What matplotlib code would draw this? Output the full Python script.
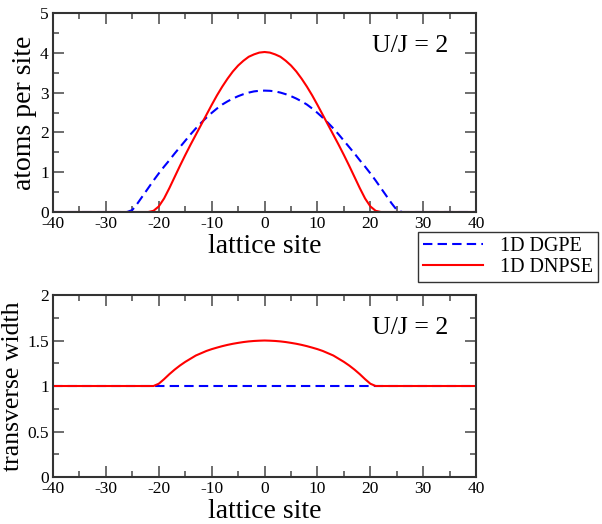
import matplotlib
matplotlib.use("Agg")
import matplotlib.pyplot as plt
from matplotlib.ticker import MultipleLocator, FormatStrFormatter

plt.rcParams['font.family'] = ['Liberation Serif', 'DejaVu Serif']
plt.rcParams['axes.unicode_minus'] = False

# ---- data ----
sites_dgpe = [-40, -26, -25, -24, -23, -22, -21, -20, -19, -18, -17, -16, -15, -14, -13, -12, -11, -10,
              -9, -8, -7, -6, -5, -4, -3, -2, -1, 0, 1, 2, 3, 4, 5, 6, 7, 8, 9, 10,
              11, 12, 13, 14, 15, 16, 17, 18, 19, 20, 21, 22, 23, 24, 25, 26, 40]
atoms_dgpe = [0.0, 0.0, 0.05, 0.22, 0.41, 0.60, 0.79, 0.97, 1.14, 1.30, 1.47, 1.63, 1.79, 1.95, 2.10, 2.24, 2.37, 2.49,
              2.60, 2.70, 2.78, 2.85, 2.91, 2.96, 3.00, 3.03, 3.045, 3.05, 3.045, 3.03, 3.00, 2.96, 2.91, 2.85, 2.78, 2.70, 2.60, 2.49,
              2.37, 2.24, 2.10, 1.95, 1.79, 1.63, 1.47, 1.30, 1.14, 0.97, 0.79, 0.60, 0.41, 0.22, 0.05, 0.0, 0.0]

sites_dnpse = [-40, -22, -21, -20, -19, -18, -17, -16, -15, -14, -13, -12, -11, -10,
               -9, -8, -7, -6, -5, -4, -3, -2, -1, 0, 1, 2, 3, 4, 5, 6, 7, 8, 9, 10,
               11, 12, 13, 14, 15, 16, 17, 18, 19, 20, 21, 22, 40]
atoms_dnpse = [0.0, 0.0, 0.03, 0.14, 0.34, 0.60, 0.88, 1.16, 1.43, 1.69, 1.94, 2.19, 2.44, 2.69,
               2.93, 3.15, 3.35, 3.53, 3.68, 3.80, 3.90, 3.96, 4.005, 4.02, 4.005, 3.96, 3.90, 3.80, 3.68, 3.53, 3.35, 3.15, 2.93, 2.69,
               2.44, 2.19, 1.94, 1.69, 1.43, 1.16, 0.88, 0.60, 0.34, 0.14, 0.03, 0.0, 0.0]

width_sites_dgpe = [-40, 40]
width_dgpe = [1.0, 1.0]

width_sites_dnpse = [-40, -21, -20, -19, -18, -17, -16, -15, -14, -13, -12, -11, -10,
                     -9, -8, -7, -6, -5, -4, -3, -2, -1, 0, 1, 2, 3, 4, 5, 6, 7, 8, 9, 10,
                     11, 12, 13, 14, 15, 16, 17, 18, 19, 20, 21, 40]
width_dnpse = [1.0, 1.0, 1.025, 1.075, 1.13, 1.18, 1.225, 1.265, 1.30, 1.335, 1.36, 1.385, 1.405,
               1.422, 1.438, 1.452, 1.464, 1.474, 1.483, 1.49, 1.495, 1.498, 1.50, 1.498, 1.495, 1.49, 1.483, 1.474, 1.464, 1.452, 1.438, 1.422, 1.405,
               1.385, 1.36, 1.335, 1.30, 1.265, 1.225, 1.18, 1.13, 1.075, 1.025, 1.0, 1.0]

label_dgpe = "1D DGPE"
label_dnpse = "1D DNPSE"
annot = "U/J = 2"

# ---- figure ----
fig = plt.figure(figsize=(6.02, 5.24), dpi=100)
ax1 = fig.add_axes([0.088, 0.5954, 0.703, 0.3798])
ax2 = fig.add_axes([0.088, 0.0897, 0.703, 0.3473])

blue = '#0000ff'
red = '#ff0000'

l1, = ax1.plot(sites_dgpe, atoms_dgpe, color=blue, lw=1.5, dashes=(4.5, 2.5), label=label_dgpe)
l2, = ax1.plot(sites_dnpse, atoms_dnpse, color=red, lw=1.5, label=label_dnpse)
ax2.plot(width_sites_dgpe, width_dgpe, color=blue, lw=1.5, dashes=(4.5, 2.5))
ax2.plot(width_sites_dnpse, width_dnpse, color=red, lw=1.5)

ax1.set_xlim(-40, 40)
ax1.set_ylim(0, 5)
ax2.set_xlim(-40, 40)
ax2.set_ylim(0, 2)

ax1.yaxis.set_major_locator(MultipleLocator(1))
ax1.yaxis.set_minor_locator(MultipleLocator(0.5))
ax2.yaxis.set_major_locator(MultipleLocator(0.5))
ax2.yaxis.set_minor_locator(MultipleLocator(0.25))
ax2.yaxis.set_major_formatter(FormatStrFormatter('%g'))
for ax in (ax1, ax2):
    ax.xaxis.set_major_locator(MultipleLocator(10))
    ax.xaxis.set_minor_locator(MultipleLocator(5))
    ax.tick_params(which='both', direction='in', top=True, right=True, labelsize=12.5,
                   color='#555555', width=1.2)
    ax.tick_params(which='major', length=8)
    ax.tick_params(which='minor', length=4)
    ax.tick_params(axis='x', pad=3)
    ax.tick_params(axis='y', pad=3)
    for s in ax.spines.values():
        s.set_linewidth(1.5)
        s.set_color('#333333')
    ax.set_xlabel("lattice site", fontsize=20, labelpad=1)

ax1.set_ylabel("atoms per site", fontsize=20, labelpad=2)
ax2.set_ylabel("transverse width", fontsize=18.5, labelpad=2)

ax1.text(0.845, 0.835, annot, transform=ax1.transAxes, fontsize=18.5, ha='center', va='center')
ax2.text(0.845, 0.82, annot, transform=ax2.transAxes, fontsize=18.5, ha='center', va='center')

leg = fig.legend(handles=[l1, l2], loc='upper left', bbox_to_anchor=(418/602, 1 - 232/524),
                 fontsize=14.5, frameon=True, fancybox=False, borderpad=0.25, labelspacing=0.1,
                 handlelength=3.0, handletextpad=0.8, borderaxespad=0)
leg.get_frame().set_edgecolor('black')
leg.get_frame().set_linewidth(1.0)

fig.savefig("out.png", dpi=100)
